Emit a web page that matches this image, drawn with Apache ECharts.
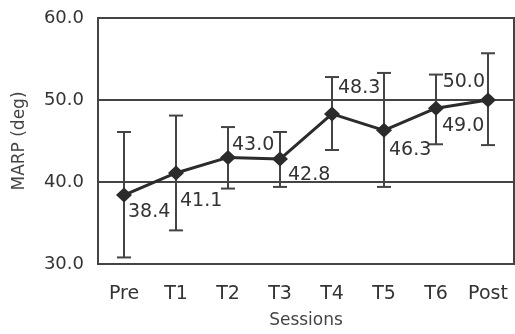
<!DOCTYPE html>
<html>
<head>
<meta charset="utf-8">
<script src="https://cdn.jsdelivr.net/npm/echarts@6/dist/echarts.min.js"></script>
<style>
  html, body { margin: 0; padding: 0; background: #fff; }
  #chart { width: 515px; height: 334px; }
</style>
</head>
<body>
<div id="chart"></div>
<script>
const sessions = ['Pre', 'T1', 'T2', 'T3', 'T4', 'T5', 'T6', 'Post'];
const means = [38.4, 41.1, 43.0, 42.8, 48.3, 46.3, 49.0, 50.0];
const upper = [46.1, 48.1, 46.7, 46.1, 52.8, 53.3, 53.1, 55.7];
const lower = [30.8, 34.1, 39.2, 39.4, 43.9, 39.4, 44.6, 44.5];

// where each value label sits relative to its point
const labelPlace = [
  { align: 'left', verticalAlign: 'top', offset: [4, 7] },
  { align: 'left', verticalAlign: 'top', offset: [4, 19] },
  { align: 'left', verticalAlign: 'bottom', offset: [4, -3] },
  { align: 'left', verticalAlign: 'top', offset: [8, 7] },
  { align: 'left', verticalAlign: 'bottom', offset: [6, -16] },
  { align: 'left', verticalAlign: 'top', offset: [5, 10] },
  { align: 'left', verticalAlign: 'top', offset: [6, 8] },
  { align: 'right', verticalAlign: 'bottom', offset: [-3, -8] },
];

const font = 'DejaVu Sans';
const ink = '#333';

const chart = echarts.init(document.getElementById('chart'));
chart.setOption({
  animation: false,
  backgroundColor: '#fff',
  grid: {
    left: 98, right: 1, top: 18, bottom: 67,
    show: true, borderColor: '#444', borderWidth: 2, backgroundColor: 'transparent',
  },
  xAxis: {
    type: 'category',
    data: sessions,
    name: 'Sessions',
    nameLocation: 'middle',
    nameGap: 48,
    nameTextStyle: { fontFamily: font, fontSize: 17, color: '#444' },
    axisLine: { show: false },
    axisTick: { show: false },
    axisLabel: { fontFamily: font, fontSize: 19, color: ink, margin: 21 },
  },
  yAxis: {
    type: 'value',
    min: 30, max: 60, interval: 10,
    name: 'MARP (deg)',
    nameLocation: 'middle',
    nameGap: 70,
    nameTextStyle: { fontFamily: font, fontSize: 17, color: '#444' },
    axisLine: { show: false },
    axisTick: { show: false },
    axisLabel: {
      fontFamily: font, fontSize: 18, color: ink, margin: 14,
      formatter: (v) => v.toFixed(1),
    },
    splitLine: { lineStyle: { color: '#444', width: 2 } },
  },
  series: [
    {
      name: 'Range',
      type: 'custom',
      data: sessions.map((s, i) => [i, lower[i], upper[i]]),
      renderItem(params, api) {
        const x = api.value(0);
        const lo = api.coord([x, api.value(1)]);
        const hi = api.coord([x, api.value(2)]);
        const half = 7;
        const style = { stroke: '#444', lineWidth: 2 };
        return {
          type: 'group',
          children: [
            { type: 'line', shape: { x1: lo[0], y1: lo[1], x2: hi[0], y2: hi[1] }, style },
            { type: 'line', shape: { x1: hi[0] - half, y1: hi[1], x2: hi[0] + half, y2: hi[1] }, style },
            { type: 'line', shape: { x1: lo[0] - half, y1: lo[1], x2: lo[0] + half, y2: lo[1] }, style },
          ],
        };
      },
      z: 2,
    },
    {
      name: 'MARP',
      type: 'line',
      data: means.map((v, i) => ({
        value: v,
        label: Object.assign({ position: 'inside' }, labelPlace[i]),
      })),
      symbol: 'diamond',
      symbolSize: [16, 15],
      lineStyle: { color: '#2b2b2b', width: 3 },
      itemStyle: { color: '#2b2b2b' },
      label: {
        show: true,
        fontFamily: font,
        fontSize: 19,
        color: ink,
        formatter: (p) => p.value.toFixed(1),
      },
      z: 3,
    },
  ],
});
</script>
</body>
</html>
